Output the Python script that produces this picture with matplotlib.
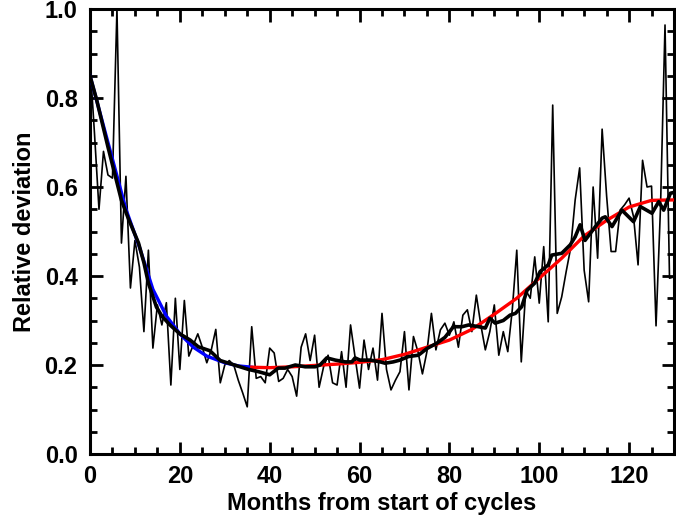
import matplotlib
matplotlib.use("Agg")
import matplotlib.pyplot as plt
from matplotlib.ticker import MultipleLocator

# Monthly relative deviation (thin line), months 0..131
raw_values = [
    0.88, 0.72, 0.55, 0.68, 0.627, 0.62, 1.0, 0.474, 0.624, 0.373,
    0.48, 0.42, 0.275, 0.458, 0.238, 0.335, 0.29, 0.34, 0.155, 0.35,
    0.19, 0.345, 0.22, 0.245, 0.27, 0.24, 0.205, 0.234, 0.28, 0.16,
    0.20, 0.21, 0.20, 0.166, 0.137, 0.106, 0.286, 0.17, 0.174, 0.16,
    0.238, 0.227, 0.163, 0.17, 0.19, 0.174, 0.13, 0.24, 0.27, 0.21,
    0.267, 0.15, 0.196, 0.222, 0.16, 0.155, 0.23, 0.15, 0.29, 0.218,
    0.148, 0.256, 0.19, 0.238, 0.166, 0.316, 0.19, 0.144, 0.166, 0.185,
    0.275, 0.144, 0.264, 0.23, 0.18, 0.23, 0.316, 0.234, 0.279, 0.294,
    0.267, 0.297, 0.24, 0.312, 0.324, 0.275, 0.357, 0.29, 0.234, 0.275,
    0.335, 0.222, 0.275, 0.23, 0.324, 0.458, 0.207, 0.368, 0.35, 0.443,
    0.339, 0.466, 0.297, 0.784, 0.316, 0.353, 0.41, 0.463, 0.571, 0.643,
    0.413, 0.342, 0.60, 0.44, 0.73, 0.58, 0.455, 0.455, 0.548, 0.56,
    0.575, 0.533, 0.425, 0.66, 0.60, 0.602, 0.288, 0.556, 0.964, 0.395,
    0.398, 0.50,
]
raw_months = list(range(len(raw_values)))

# Smoothed curve (thick black line)
smooth_months = [
    0, 1.5, 4, 7, 8.5, 10.8, 12, 13, 14.8, 16, 17.8, 20, 22.3, 24.1, 26.7,
    29, 31.2, 33.4, 35.3, 37.5, 40, 41.9, 43.4, 45.7, 47.9, 50.1, 51.2,
    52.7, 54.6, 56.8, 58.3, 59, 60.1, 62.4, 64.6, 65.7, 67.5, 69, 70.9,
    73.1, 75, 77.2, 79, 80.9, 82.8, 84.3, 86.5, 88, 89, 90.2, 92, 93.5,
    94.7, 96.1, 97.3, 99, 100.2, 102, 102.8, 105, 106.9, 108, 109.1, 110.2,
    112.5, 114, 114.7, 116.2, 118.4, 121, 122.5, 125.1, 126.6, 127.7,
    129.2, 131,
]
smooth_values = [
    0.85, 0.795, 0.69, 0.57, 0.53, 0.474, 0.43, 0.384, 0.33, 0.31, 0.29,
    0.27, 0.256, 0.241, 0.232, 0.21, 0.203, 0.196, 0.19, 0.185, 0.178,
    0.193, 0.193, 0.2, 0.196, 0.196, 0.2, 0.216, 0.211, 0.207, 0.207,
    0.216, 0.211, 0.211, 0.207, 0.204, 0.207, 0.211, 0.219, 0.222, 0.237,
    0.249, 0.262, 0.286, 0.286, 0.29, 0.286, 0.283, 0.305, 0.294, 0.30,
    0.312, 0.316, 0.331, 0.368, 0.384, 0.41, 0.425, 0.447, 0.451, 0.47,
    0.488, 0.515, 0.48, 0.511, 0.53, 0.533, 0.511, 0.548, 0.522, 0.556,
    0.541, 0.567, 0.548, 0.586, 0.59,
]

# Fit over the declining phase (blue)
blue_months = [0, 2, 4, 6, 8, 11, 14, 17, 20, 23, 26, 30, 33, 36]
blue_values = [0.85, 0.775, 0.70, 0.625, 0.55, 0.465, 0.37, 0.31, 0.27,
               0.24, 0.22, 0.205, 0.198, 0.195]

# Fit over the rising phase (red)
red_months = [36, 40, 45, 50, 55, 60, 65, 70, 75, 80, 85, 90, 95, 100,
              105, 110, 115, 120, 125, 130]
red_values = [0.195, 0.194, 0.196, 0.199, 0.202, 0.206, 0.212, 0.224,
              0.24, 0.256, 0.28, 0.314, 0.35, 0.395, 0.44, 0.49, 0.525,
              0.555, 0.57, 0.571]

x_label = "Months from start of cycles"
y_label = "Relative deviation"

plt.rcParams['font.family'] = ['Liberation Sans', 'DejaVu Sans']
plt.rcParams['font.weight'] = 'bold'

FS = 17

fig = plt.figure(figsize=(6.76, 5.22), dpi=100)
ax = fig.add_axes([90 / 676, 1 - 454 / 522, 584 / 676, 445 / 522])

ax.plot(raw_months, raw_values, color='black', lw=1.2, zorder=2,
        clip_on=False)
ax.plot(blue_months, blue_values, color='#0000ff', lw=2.4, zorder=3)
ax.plot(red_months, red_values, color='#ff0000', lw=2.4, zorder=3)
ax.plot(smooth_months, smooth_values, color='black', lw=2.6, zorder=4)

ax.set_xlim(0, 130)
ax.set_ylim(0, 1.0)
ax.xaxis.set_major_locator(MultipleLocator(20))
ax.xaxis.set_minor_locator(MultipleLocator(5))
ax.yaxis.set_major_locator(MultipleLocator(0.2))
ax.yaxis.set_minor_locator(MultipleLocator(0.05))
ax.set_xticks([0, 20, 40, 60, 80, 100, 120])
ax.set_xticklabels(["0", "20", "40", "60", "80", "100", "120"])
ax.set_yticks([0.0, 0.2, 0.4, 0.6, 0.8, 1.0])
ax.set_yticklabels(["0.0", "0.2", "0.4", "0.6", "0.8", "1.0"])

ax.tick_params(which='both', direction='in', top=True, right=True,
               width=2.0, labelsize=FS)
ax.tick_params(which='major', length=9)
ax.tick_params(which='minor', length=5)
ax.tick_params(axis='x', pad=8)
ax.tick_params(axis='y', pad=9)
for lab in ax.get_xticklabels() + ax.get_yticklabels():
    lab.set_fontweight('bold')
for sp in ax.spines.values():
    sp.set_linewidth(2.2)

ax.set_xlabel(x_label, fontsize=FS, fontweight='bold', labelpad=3)
ax.set_ylabel(y_label, fontsize=FS, fontweight='bold', labelpad=6)

fig.savefig("out.png", dpi=100)
